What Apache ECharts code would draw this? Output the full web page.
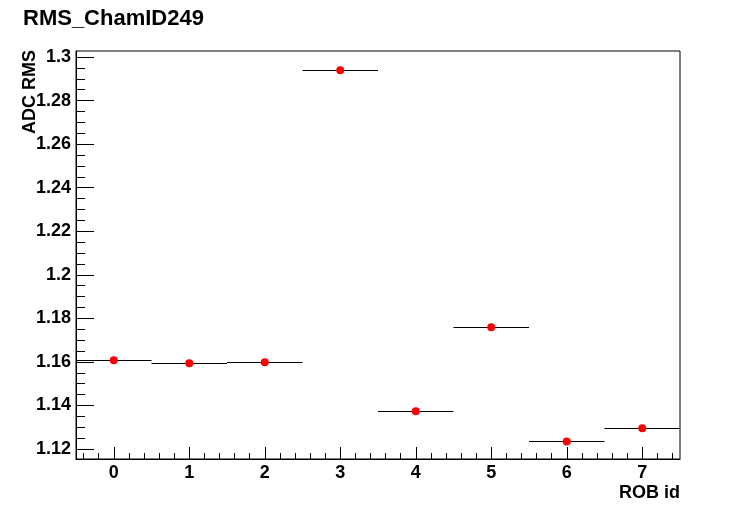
<!DOCTYPE html>
<html>
<head>
<meta charset="utf-8">
<script src="https://cdn.jsdelivr.net/npm/echarts@6/dist/echarts.min.js"></script>
<style>html,body{margin:0;padding:0;background:#fff}#c{width:756px;height:511px}</style>
</head>
<body>
<div id="c"></div>
<script>
var titleText = 'RMS_ChamID249';
var xTitle = 'ROB id';
var yTitle = 'ADC RMS';
var robIds = [0, 1, 2, 3, 4, 5, 6, 7];
var rmsValues = [1.1607, 1.1594, 1.1598, 1.2939, 1.1373, 1.1759, 1.1235, 1.1295];
var xTicks = [0, 1, 2, 3, 4, 5, 6, 7];
var yTicks = [1.12, 1.14, 1.16, 1.18, 1.2, 1.22, 1.24, 1.26, 1.28, 1.3];

var xMin = -0.5, xMax = 7.5, yMin = 1.11541, yMax = 1.30275;
var xMinor = [];
for (var i = -2; i <= 37; i++) { var v = +(i * 0.2).toFixed(2); if (v > xMin && v < xMax && Math.abs(v - Math.round(v)) > 1e-6) xMinor.push(v); }
var yMinor = [];
for (var j = 0; j <= 40; j++) { var w = +(1.115 + j * 0.005).toFixed(3); if (w > yMin && w < yMax) yMinor.push(w); }

var font = 'Liberation Sans';
var pts = robIds.map(function (x, k) { return [x, rmsValues[k]]; });

var chart = echarts.init(document.getElementById('c'), null, {renderer: 'canvas'});
chart.setOption({
  animation: false,
  backgroundColor: '#fff',
  title: {
    text: titleText, left: 18, top: 3,
    textStyle: {fontFamily: font, fontWeight: 'bold', fontSize: 22, color: '#000'}
  },
  grid: {left: 76, right: 76, top: 51, bottom: 52, show: true, borderColor: '#000', borderWidth: 1, backgroundColor: 'transparent'},
  xAxis: [{
    type: 'value', min: xMin, max: xMax, position: 'bottom',
    axisLine: {show: true, onZero: false, lineStyle: {color: '#000', width: 1}},
    axisTick: {show: true, inside: true, length: 12, customValues: xTicks, lineStyle: {color: '#000'}},
    axisLabel: {show: true, customValues: xTicks, margin: 5, fontFamily: font, fontWeight: 'bold', fontSize: 18, color: '#000'},
    splitLine: {show: false}
  }, {
    type: 'value', min: xMin, max: xMax, position: 'bottom',
    axisLine: {show: false, onZero: false},
    axisTick: {show: true, inside: true, length: 6, customValues: xMinor, lineStyle: {color: '#000'}},
    axisLabel: {show: false},
    splitLine: {show: false}
  }],
  yAxis: [{
    type: 'value', min: yMin, max: yMax, position: 'left',
    axisLine: {show: true, onZero: false, lineStyle: {color: '#000', width: 1}},
    axisTick: {show: true, inside: true, length: 18, customValues: yTicks, lineStyle: {color: '#000'}},
    axisLabel: {show: true, customValues: yTicks, margin: 5, fontFamily: font, fontWeight: 'bold', fontSize: 18, color: '#000',
      formatter: function (v) { return String(parseFloat(v.toFixed(3))); }},
    splitLine: {show: false}
  }, {
    type: 'value', min: yMin, max: yMax, position: 'left',
    axisLine: {show: false, onZero: false},
    axisTick: {show: true, inside: true, length: 9, customValues: yMinor, lineStyle: {color: '#000'}},
    axisLabel: {show: false},
    splitLine: {show: false}
  }],
  graphic: [{
    type: 'text', x: 21, y: 50, rotation: Math.PI / 2,
    style: {text: yTitle, align: 'right', verticalAlign: 'top', font: 'bold 18px "Liberation Sans"', fill: '#000'}
  }, {
    type: 'text', x: 680, y: 493,
    style: {text: xTitle, align: 'right', verticalAlign: 'middle', font: 'bold 18px "Liberation Sans"', fill: '#000'}
  }],
  series: [{
    type: 'custom', xAxisIndex: 0, yAxisIndex: 0, data: pts, z: 2,
    renderItem: function (params, api) {
      var a = api.coord([api.value(0) - 0.5, api.value(1)]);
      var b = api.coord([api.value(0) + 0.5, api.value(1)]);
      return {type: 'line', shape: {x1: a[0], y1: Math.round(a[1]) + 0.5, x2: b[0], y2: Math.round(b[1]) + 0.5}, style: {stroke: '#000', lineWidth: 1}};
    }
  }, {
    type: 'scatter', xAxisIndex: 0, yAxisIndex: 0, data: pts, z: 3,
    symbol: 'circle', symbolSize: 8, itemStyle: {color: '#ff0000', opacity: 1}
  }]
});
</script>
</body>
</html>
